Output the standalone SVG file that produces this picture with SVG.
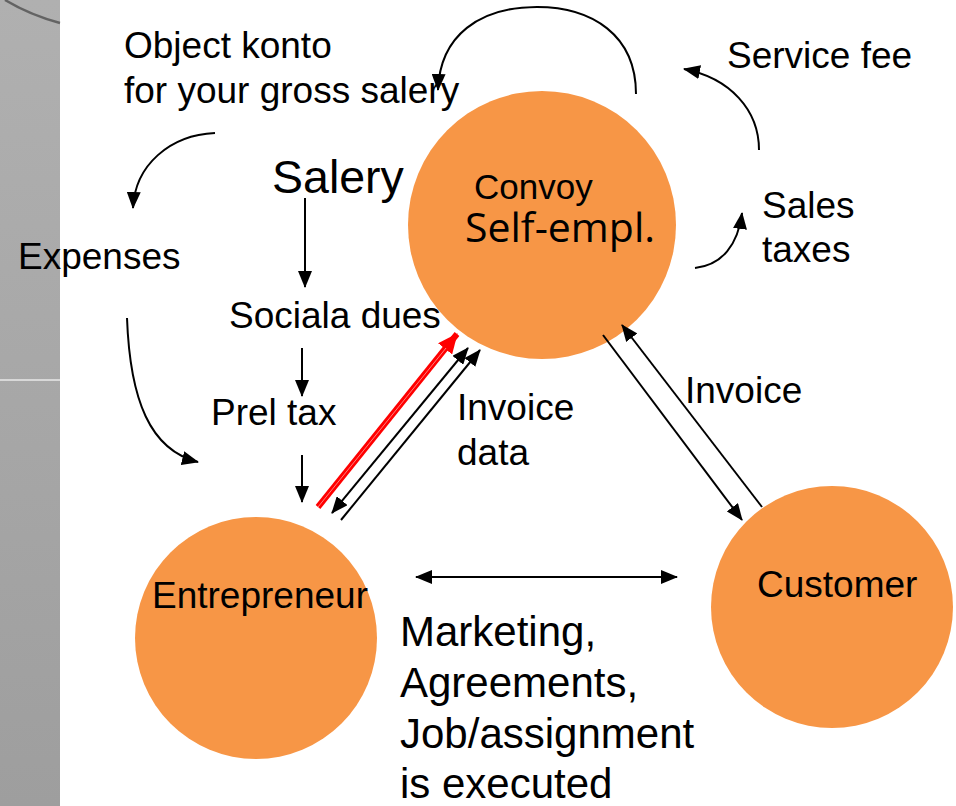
<svg xmlns="http://www.w3.org/2000/svg" width="956" height="806" viewBox="0 0 956 806">
<defs>
<linearGradient id="strip" x1="0" y1="0" x2="0" y2="1">
<stop offset="0" stop-color="#b0b0b0"/>
<stop offset="1" stop-color="#9e9e9e"/>
</linearGradient>
<marker id="ah" markerUnits="userSpaceOnUse" markerWidth="18" markerHeight="14" refX="16" refY="7" orient="auto-start-reverse">
<path d="M0,0 L17,7 L0,14 z" fill="#000"/>
</marker>
<marker id="ahr" markerUnits="userSpaceOnUse" markerWidth="22" markerHeight="18" refX="19" refY="9" orient="auto">
<path d="M0,0 L20,9 L0,18 z" fill="#ff0000"/>
</marker>
<style>
.t{font-family:"Liberation Sans",Arial,sans-serif;font-size:37px;fill:#000}
.c{fill:none;stroke:#000;stroke-width:2}
.node{fill:#f79646}
</style>
</defs>
<rect x="0" y="0" width="956" height="806" fill="#fff"/>
<g id="background">
<rect x="0" y="0" width="60" height="806" fill="url(#strip)"/>
<line x1="0" y1="380" x2="60" y2="380" stroke="#e8e8e8" stroke-width="1.5"/>
<path d="M5,0 Q30,15 60,23" fill="none" stroke="#4a4a4a" stroke-width="2.5" opacity="0.75"/>
</g>
<g id="convoy">
<circle class="node" cx="542" cy="225" r="134"/>
<text class="t" x="474" y="199" style="font-size:35px">Convoy</text>
<text x="465" y="242" style="font-family:'Open Sans','Noto Sans',sans-serif;font-size:41px">Self-empl.</text>
</g>
<g id="entrepreneur">
<circle class="node" cx="256" cy="638" r="121"/>
<text class="t" x="152" y="608">Entrepreneur</text>
</g>
<g id="customer">
<circle class="node" cx="832" cy="607" r="121"/>
<text class="t" x="757" y="597">Customer</text>
</g>
<g id="labels">
<text class="t" x="124" y="58">Object konto</text>
<text class="t" x="124" y="103">for your gross salery</text>
<text class="t" x="272" y="193" style="font-size:46.5px">Salery</text>
<text class="t" x="18" y="269">Expenses</text>
<text class="t" x="229" y="328">Sociala dues</text>
<text class="t" x="211" y="425">Prel tax</text>
<text class="t" x="457" y="420">Invoice</text>
<text class="t" x="457" y="465">data</text>
<text class="t" x="685" y="403">Invoice</text>
<text class="t" x="727" y="68">Service fee</text>
<text class="t" x="762" y="218">Sales</text>
<text class="t" x="762" y="262">taxes</text>
<text class="t" x="400" y="646" style="font-size:42px">Marketing,</text>
<text class="t" x="400" y="697" style="font-size:42px">Agreements,</text>
<text class="t" x="400" y="748" style="font-size:42px">Job/assignment</text>
<text class="t" x="400" y="798" style="font-size:42px">is executed</text>
</g>
<g id="connectors">
<path class="c" d="M636,94 C636,35 592,7 537,7 C480,7 440,35 438,90" marker-end="url(#ah)"/>
<path class="c" d="M759,150 C759,110 730,78 684,69" marker-end="url(#ah)"/>
<path class="c" d="M695,268 C722,265 738,245 742,213" marker-end="url(#ah)"/>
<path class="c" d="M215,133 C170,135 135,165 133,208" marker-end="url(#ah)"/>
<path class="c" d="M127,318 C130,400 150,450 198,462" marker-end="url(#ah)"/>
<line class="c" x1="305" y1="198" x2="305" y2="287" marker-end="url(#ah)"/>
<line class="c" x1="302" y1="348" x2="302" y2="396" marker-end="url(#ah)"/>
<line class="c" x1="302" y1="455" x2="302" y2="502" marker-end="url(#ah)"/>
<line x1="318" y1="507" x2="457" y2="334" stroke="#ff0000" stroke-width="6" marker-end="url(#ahr)"/>
<line x1="318" y1="507" x2="446" y2="348" stroke="#ff8080" stroke-width="1"/>
<line class="c" x1="332" y1="513" x2="468" y2="348" marker-start="url(#ah)" marker-end="url(#ah)"/>
<line class="c" x1="341" y1="520" x2="480" y2="350" marker-end="url(#ah)"/>
<line class="c" x1="603" y1="335" x2="742" y2="520" marker-end="url(#ah)"/>
<line class="c" x1="762" y1="507" x2="622" y2="325" marker-end="url(#ah)"/>
<line class="c" x1="416" y1="577" x2="677" y2="577" marker-start="url(#ah)" marker-end="url(#ah)"/>
</g>
</svg>
